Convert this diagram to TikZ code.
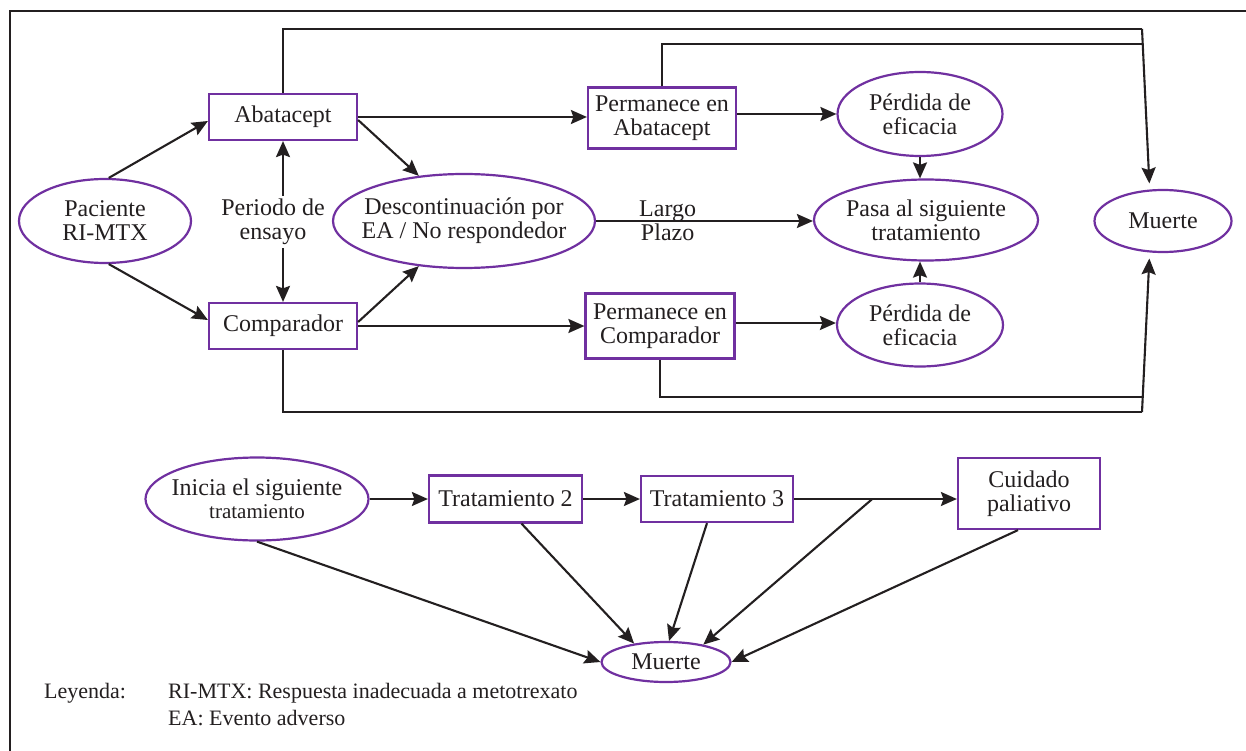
\documentclass[tikz,border=0pt]{standalone}
\usepackage{fontspec}
\setmainfont{Liberation Serif}
\usetikzlibrary{shapes.geometric,arrows.meta}
\definecolor{purp}{RGB}{112,48,160}
\definecolor{ink}{RGB}{35,31,32}
\begin{document}
\begin{tikzpicture}[x=1pt,y=-1pt,
  every node/.style={text=ink},
  txt/.style={font=\fontsize{24}{24}\selectfont, align=center, inner sep=0pt},
  boxn/.style={txt, draw=purp, line width=2.2pt, rectangle},
  ell/.style={draw=purp, line width=2.2pt, ellipse, inner sep=0pt},
  ln/.style={draw=ink, line width=2.1pt},
  arr/.style={ln, -{Stealth[length=16pt,width=14pt,inset=2.5pt]}},
  leg/.style={font=\fontsize{22}{22}\selectfont, inner sep=0pt, anchor=west}
]
\useasboundingbox (0,0) rectangle (1246,751);
\fill[white] (0,0) rectangle (1246,751);
% frame
\draw[ink, line width=2.7pt] (10,751) -- (10,11) -- (1246,11);

% top part nodes
\node[ell, minimum width=172pt, minimum height=84pt, label={[txt]center:{Paciente\\RI-MTX}}] (pac) at (105,221) {};
\node[boxn, minimum width=148pt, minimum height=46pt] (aba) at (283,117) {Abatacept};
\node[boxn, minimum width=148pt, minimum height=46pt] (com) at (283,326) {Comparador};
\node[txt, minimum height=52pt] (per) at (273,222) {Periodo de\\ensayo};
\node[ell, minimum width=262pt, minimum height=94pt, label={[txt]center:{Descontinuación por\\EA / No respondedor}}] (desc) at (464,221) {};
\node[boxn, minimum width=148pt, minimum height=61pt] (pab) at (662,118) {Permanece en\\Abatacept};
\node[boxn, minimum width=149pt, minimum height=65pt] (pco) at (660,326) {Permanece en\\Comparador};
\node[ell, minimum width=165pt, minimum height=84pt, label={[txt]center:{Pérdida de\\eficacia}}] (pe1) at (920,114) {};
\node[ell, minimum width=224pt, minimum height=81pt, label={[txt]center:{Pasa al siguiente\\tratamiento}}] (pasa) at (926,220) {};
\node[ell, minimum width=166pt, minimum height=83pt, label={[txt]center:{Pérdida de\\eficacia}}] (pe2) at (920,325) {};
\node[ell, minimum width=137pt, minimum height=62pt, label={[txt]center:{Muerte}}] (mue1) at (1163,221) {};

\coordinate (tr1) at (1142,29);
\coordinate (tr2) at (1142,44);
\coordinate (br1) at (1142,412);
\coordinate (br2) at (1142,397);

% top part connectors
\draw[arr] (pac.85) -- ([yshift=-4pt]aba.west);
\draw[arr] (pac.275) -- ([yshift=6pt]com.west);
\draw[arr] (aba.south |- per.north) -- (aba.south);
\draw[arr] (aba.north |- per.south) -- (com.north);
\draw[arr] ([yshift=-3pt]aba.east) -- (desc.135);
\draw[arr] ([yshift=4pt]com.east) -- (desc.225);
\draw[arr] (aba.east) -- (aba.east -| pab.west);
\draw[arr] (com.east) -- (com.east -| pco.west);
\draw[arr] (pe1.west -| pab.east) -- (pe1.west);
\draw[arr] ([yshift=2pt]pe2.west -| pco.east) -- ([yshift=2pt]pe2.west);
\draw[arr] (pe1.south) -- (pe1.south |- pasa.north);
\draw[arr] (pe2.north) -- (pe2.north |- pasa.south);
\draw[arr] (desc.east) -- node[txt, pos=0.33] {Largo\\Plazo} (desc.east -| pasa.west);
\draw[ln] (aba.north) |- (tr1);
\draw[ln] (pab.north) |- (tr2);
\draw[ln] (com.south) |- (br1);
\draw[ln] (pco.south) |- (br2);
\draw[arr, shorten >=6pt] (tr1) -- (mue1.113);
\draw[arr, shorten >=6pt] (br1) -- (mue1.247);

% bottom part nodes
\node[ell, minimum width=223pt, minimum height=83pt,
  label={[txt]center:{Inicia el siguiente\\[-1pt]{\fontsize{21}{21}\selectfont tratamiento}}}] (ini) at (257,499) {};
\node[boxn, minimum width=153pt, minimum height=47pt] (t2) at (505.5,499) {Tratamiento 2};
\node[boxn, minimum width=152pt, minimum height=46pt] (t3) at (717,499) {Tratamiento 3};
\node[boxn, minimum width=142pt, minimum height=71pt] (cui) at (1029,493.5) {Cuidado\\paliativo};
\node[ell, minimum width=129pt, minimum height=40pt, label={[txt]center:{Muerte}}] (mue2) at (666,662) {};

% bottom part connectors
\draw[arr] (ini.east) -- (ini.east -| t2.west);
\draw[arr] (t2.east) -- (t3.west);
\draw[arr] (t3.east) -- coordinate[pos=0.48] (j) (t3.east -| cui.west);
\draw[arr] (j) -- (mue2.25);
\draw[arr] ([xshift=-10pt]t3.south) -- ([xshift=3pt]mue2.north);
\draw[arr] ([xshift=16pt]t2.south) -- (mue2.150);
\draw[arr] (ini.south) -- (mue2.west);
\draw[arr] ([xshift=-11pt]cui.south) -- (mue2.east);

% legend
\node[leg] (ley) at (44,693) {Leyenda:};
\node[leg] (l1) at (168,693) {RI-MTX: Respuesta inadecuada a metotrexato};
\node[leg] (l2) at (168,718) {EA: Evento adverso};
\end{tikzpicture}
\end{document}
